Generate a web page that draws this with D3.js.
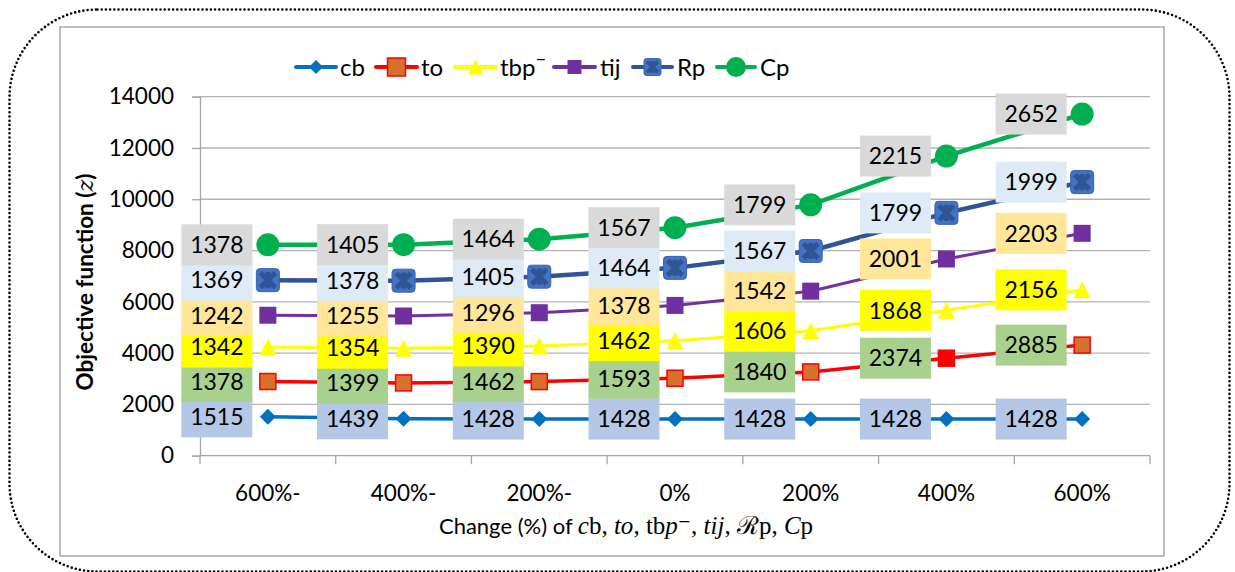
<!DOCTYPE html>
<html>
<head>
<meta charset="utf-8">
<script src="https://cdn.jsdelivr.net/npm/d3@7"></script>
<style>
  body { margin: 0; background: #fff; }
  svg text { font-family: Lato, "Open Sans", sans-serif; fill: #000; }
</style>
</head>
<body>
<svg id="chart" width="1235" height="572"></svg>
<script>
"use strict";

// x categories (change %)
var categories = ["600%-", "400%-", "200%-", "0%", "200%", "400%", "600%"];
var seriesNames = ["cb", "to", "tbp", "tij", "Rp", "Cp"];

// each series' own value (stacked on top of the previous ones)
var cbValues  = [1515, 1439, 1428, 1428, 1428, 1428, 1428];
var toValues  = [1378, 1399, 1462, 1593, 1840, 2374, 2885];
var tbpValues = [1342, 1354, 1390, 1462, 1606, 1868, 2156];
var tijValues = [1242, 1255, 1296, 1378, 1542, 2001, 2203];
var rpValues  = [1369, 1378, 1405, 1464, 1567, 1799, 1999];
var cpValues  = [1378, 1405, 1464, 1567, 1799, 2215, 2652];

var yTicks = [0, 2000, 4000, 6000, 8000, 10000, 12000, 14000];

var svg = d3.select("#chart");

// build the rows for d3.stack
var valueLists = [cbValues, toValues, tbpValues, tijValues, rpValues, cpValues];
var rows = categories.map(function(c, i) {
  var row = { cat: c, idx: i };
  seriesNames.forEach(function(s, k) { row[s] = valueLists[k][i]; });
  return row;
});
var stacked = d3.stack().keys(seriesNames)(rows);

var style = {
  cb:  { line: "#0070c0", width: 3.5, label: "#b4c7e7" },
  to:  { line: "#ff0000", width: 3.5, label: "#a9d18e" },
  tbp: { line: "#ffff00", width: 3,   label: "#ffff00" },
  tij: { line: "#7030a0", width: 3,   label: "#ffe699" },
  Rp:  { line: "#2f5597", width: 4.5, label: "#deebf7" },
  Cp:  { line: "#00b050", width: 4.5, label: "#d9d9d9" }
};

// outer dotted frame + inner chart border
svg.append("rect")
  .attr("x", 9.5).attr("y", 9.5).attr("width", 1220).attr("height", 562)
  .attr("rx", 88).attr("ry", 88)
  .attr("fill", "none").attr("stroke", "#000")
  .attr("stroke-width", 2.6).attr("stroke-linecap", "round")
  .attr("stroke-dasharray", "0 4.2");

svg.append("rect")
  .attr("x", 60).attr("y", 27).attr("width", 1104).attr("height", 529)
  .attr("fill", "#fff").attr("stroke", "#a6a6a6").attr("stroke-width", 1.5);

var x = d3.scaleBand().domain(d3.range(categories.length)).range([200, 1150]);
var y = d3.scaleLinear().domain([0, 14000]).range([455.7, 96.7]);
var cx = function(i) { return x(i) + x.bandwidth() / 2; };

// gridlines
svg.append("g")
  .selectAll("line")
  .data(yTicks.slice(1))
.enter().append("line")
  .attr("x1", 200).attr("x2", 1150)
  .attr("y1", function(d) { return y(d); })
  .attr("y2", function(d) { return y(d); })
  .attr("stroke", "#b3b3b3").attr("stroke-width", 1.3);

// y axis
var yAxis = svg.append("g")
  .attr("transform", "translate(200,0)")
  .call(d3.axisLeft(y).tickValues(yTicks).tickSize(8).tickPadding(18).tickFormat(d3.format("d")));
yAxis.select(".domain").attr("stroke", "#a6a6a6").attr("stroke-width", 1.3);
yAxis.selectAll(".tick line").attr("stroke", "#a6a6a6").attr("stroke-width", 1.3);
yAxis.selectAll("text").style("font-size", "22.5px").attr("fill", "#000");

// x axis: baseline + ticks at category boundaries
svg.append("line")
  .attr("x1", 200).attr("x2", 1150).attr("y1", y(0)).attr("y2", y(0))
  .attr("stroke", "#a6a6a6").attr("stroke-width", 1.3);
svg.append("g")
  .selectAll("line")
  .data(d3.range(categories.length + 1))
.enter().append("line")
  .attr("x1", function(d) { return 200 + d * x.bandwidth(); })
  .attr("x2", function(d) { return 200 + d * x.bandwidth(); })
  .attr("y1", y(0)).attr("y2", y(0) + 8.5)
  .attr("stroke", "#a6a6a6").attr("stroke-width", 1.3);
svg.append("g")
  .selectAll("text")
  .data(categories)
.enter().append("text")
  .attr("x", function(d, i) { return cx(i); })
  .attr("y", 501)
  .attr("text-anchor", "middle")
  .style("font-size", "22.5px")
  .text(function(d) { return d; });

// axis titles
var yTitle = svg.append("text")
  .attr("transform", "translate(93,282) rotate(-90)")
  .attr("text-anchor", "middle")
  .style("font-size", "22.5px").style("font-weight", "bold");
yTitle.append("tspan").text("Objective function (");
yTitle.append("tspan").style("font-style", "italic").style("font-family", "'DejaVu Serif', serif").style("font-weight", "normal").text("z");
yTitle.append("tspan").text(")");

var xTitle = svg.append("text")
  .attr("x", 626).attr("y", 534)
  .attr("text-anchor", "middle")
  .style("font-size", "22px");
var mathParts = [
  ["Change (%) of ", "n", "sans"],
  ["c", "i", "serif"], ["b", "n", "serif"], [", ", "n", "serif"],
  ["to", "i", "serif"], [", ", "n", "serif"],
  ["tb", "n", "serif"], ["p", "i", "serif"], ["\u207B", "n", "serif"], [", ", "n", "serif"],
  ["tij", "i", "serif"], [", ", "n", "serif"],
  ["\u211B", "n", "serif"], ["p", "n", "serif"], [", ", "n", "serif"],
  ["C", "i", "serif"], ["p", "n", "serif"]
];
mathParts.forEach(function(p) {
  xTitle.append("tspan")
    .style("font-style", p[1] === "i" ? "italic" : "normal")
    .style("font-family", p[2] === "serif" ? "'Liberation Serif', 'DejaVu Serif', serif" : null)
    .style("font-size", p[2] === "serif" ? "25px" : null)
    .text(p[0]);
});

// markers
function drawMarker(g, name, size, fillOverride) {
  var s = size;
  if (name === "cb") {
    g.append("path")
      .attr("d", "M0," + (-s / 2) + "L" + (s / 2) + ",0L0," + (s / 2) + "L" + (-s / 2) + ",0Z")
      .attr("fill", "#0070c0");
  } else if (name === "to") {
    g.append("rect")
      .attr("x", -s / 2).attr("y", -s / 2).attr("width", s).attr("height", s)
      .attr("fill", fillOverride || "#d6702d").attr("stroke", "#ff0000").attr("stroke-width", 1.5);
  } else if (name === "tbp") {
    g.append("path")
      .attr("d", "M0," + (-s / 2) + "L" + (s / 2) + "," + (s / 2) + "L" + (-s / 2) + "," + (s / 2) + "Z")
      .attr("fill", "#ffff00");
  } else if (name === "tij") {
    g.append("rect")
      .attr("x", -s / 2).attr("y", -s / 2).attr("width", s).attr("height", s)
      .attr("fill", "#7030a0");
  } else if (name === "Rp") {
    g.append("rect")
      .attr("x", -s / 2).attr("y", -s / 2).attr("width", s).attr("height", s)
      .attr("rx", s * 0.15)
      .attr("fill", "#4472c4").attr("stroke", "#3a64b0").attr("stroke-width", 1);
    var k = s * 0.32;
    g.append("path")
      .attr("d", "M" + (-k) + "," + (-k) + "L" + k + "," + k + "M" + k + "," + (-k) + "L" + (-k) + "," + k +
                 "M0," + (-k * 1.1) + "L0," + (k * 1.1))
      .attr("stroke", "#2f5597").attr("stroke-width", s * 0.22).attr("fill", "none");
  } else if (name === "Cp") {
    g.append("circle").attr("r", s / 2).attr("fill", "#00b050");
  }
}

var markerSize = { cb: 16, to: 16, tbp: 17, tij: 17, Rp: 23, Cp: 23 };

var line = d3.line()
  .x(function(d) { return cx(d.data.idx); })
  .y(function(d) { return y(d[1]); });

// lines
svg.append("g")
  .selectAll("path")
  .data(stacked)
.enter().append("path")
  .attr("d", function(d) { return line(d); })
  .attr("fill", "none")
  .attr("stroke", function(d) { return style[d.key].line; })
  .attr("stroke-width", function(d) { return style[d.key].width; });

// point markers
stacked.forEach(function(series) {
  series.forEach(function(d) {
    var g = svg.append("g")
      .attr("transform", "translate(" + cx(d.data.idx) + "," + y(d[1]) + ")");
    var override = (series.key === "to" && d.data.idx === 5) ? "#ff0000" : null;
    drawMarker(g, series.key, markerSize[series.key], override);
  });
});

// data labels (series own value), placed left of each point
var boxW = 71, boxH = 41;
stacked.forEach(function(series) {
  var lg = svg.append("g");
  series.forEach(function(d) {
    var px = cx(d.data.idx) - 15.5 - boxW / 2;
    var py = y(d[1]);
    lg.append("rect")
      .attr("x", px - boxW / 2).attr("y", py - boxH / 2)
      .attr("width", boxW).attr("height", boxH)
      .attr("fill", style[series.key].label);
    lg.append("text")
      .attr("x", px).attr("y", py)
      .attr("dy", "0.36em")
      .attr("text-anchor", "middle")
      .style("font-size", "23px")
      .text(d[1] - d[0]);
  });
});

// legend
var legendItems = [
  { key: "cb",  x1: 296, x2: 336, tx: 340, label: "cb",  size: 14 },
  { key: "to",  x1: 376, x2: 417, tx: 421, label: "to",  size: 18 },
  { key: "tbp", x1: 455, x2: 496, tx: 500, label: "tbp", size: 15 },
  { key: "tij", x1: 554, x2: 595, tx: 600, label: "tij", size: 14 },
  { key: "Rp",  x1: 633, x2: 672, tx: 677, label: "Rp",  size: 17 },
  { key: "Cp",  x1: 717, x2: 755, tx: 760, label: "Cp",  size: 20 }
];
var legendY = 67;
legendItems.forEach(function(item) {
  var g = svg.append("g");
  g.append("line")
    .attr("x1", item.x1).attr("x2", item.x2)
    .attr("y1", legendY).attr("y2", legendY)
    .attr("stroke", style[item.key].line)
    .attr("stroke-width", 4).attr("stroke-linecap", "round");
  drawMarker(g.append("g").attr("transform", "translate(" + ((item.x1 + item.x2) / 2) + "," + legendY + ")"),
    item.key, item.size);
  var t = g.append("text")
    .attr("x", item.tx).attr("y", legendY)
    .attr("dy", "0.36em")
    .style("font-size", "24px")
    .text(item.label);
  if (item.key === "tbp") {
    t.append("tspan").attr("dy", "-0.55em").style("font-size", "20px").text("\u2012");
  }
});
</script>
</body>
</html>
